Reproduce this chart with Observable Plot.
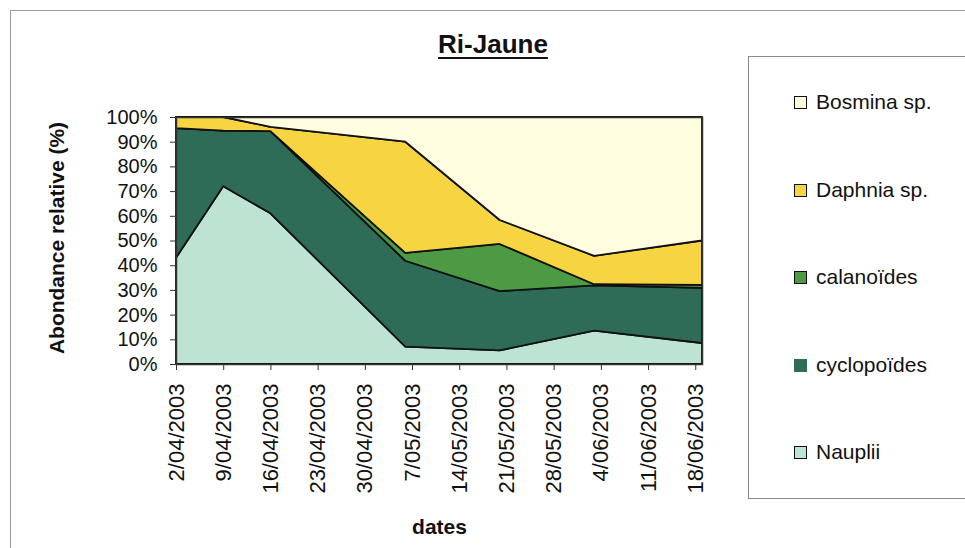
<!DOCTYPE html>
<html>
<head>
<meta charset="utf-8">
<script src="https://cdn.jsdelivr.net/npm/d3@7"></script>
<script src="https://cdn.jsdelivr.net/npm/@observablehq/plot@0.6"></script>
<style>
  html, body { margin: 0; padding: 0; background: #fff; overflow: hidden; }
  body { width: 965px; height: 548px; position: relative; font-family: "Liberation Sans", Arial, sans-serif; color: #111; }
  #outer { position: absolute; left: 10px; top: 10px; width: 1000px; height: 600px; border: 1px solid #9a9a9a; box-sizing: border-box; }
  #chart { position: absolute; left: 0; top: 0; }
  #title { position: absolute; left: 393px; width: 200px; top: 29px; text-align: center; font-weight: bold; font-size: 26px; text-decoration: underline; text-decoration-thickness: 2px; text-underline-offset: 4px; }
  #legend { position: absolute; left: 748px; top: 56px; width: 260px; height: 443px; border: 1px solid #8a8a8a; box-sizing: border-box; background: #fff; }
  .item { position: absolute; left: 45px; height: 24px; display: flex; align-items: center; font-size: 21px; white-space: nowrap; }
  .sw { width: 11px; height: 11px; border: 1.5px solid #111; margin-right: 9px; flex: none; }
</style>
</head>
<body>
<div id="outer"></div>
<div id="chart"></div>
<div id="title">Ri-Jaune</div>
<div id="legend"></div>
<script>
// ---- data ----
const dates = ["2003-04-02", "2003-04-09", "2003-04-16", "2003-05-06", "2003-05-20", "2003-06-03", "2003-06-19"];
const series = ["Nauplii", "cyclopoïdes", "calanoïdes", "Daphnia sp.", "Bosmina sp."];
const nauplii     = [43, 72, 61, 7, 5.5, 13.5, 8.5];
const cyclopoides = [52.5, 22.5, 33.3, 34.8, 24, 18.3, 22.3];
const calanoides  = [0, 0, 0, 3.2, 19.1, 0.5, 1.2];
const daphnia     = [4.5, 5.5, 1.7, 45, 9.7, 11.5, 18];
const bosmina     = [0, 0, 4, 10, 41.7, 56.2, 50];
const colors = ["#bde3d2", "#2f6c58", "#4d9a45", "#f7d542", "#fffde0"];
const tickDates = ["2003-04-02", "2003-04-09", "2003-04-16", "2003-04-23", "2003-04-30", "2003-05-07",
                   "2003-05-14", "2003-05-21", "2003-05-28", "2003-06-04", "2003-06-11", "2003-06-18"];
const yTicks = [0, 10, 20, 30, 40, 50, 60, 70, 80, 90, 100];
const xTitle = "dates";
const yTitle = "Abondance relative (%)";

// ---- build tidy table ----
const valuesBySeries = [nauplii, cyclopoides, calanoides, daphnia, bosmina];
const parse = d3.utcParse("%Y-%m-%d");
const table = [];
series.forEach((s, i) => {
  dates.forEach((d, j) => table.push({series: s, date: parse(d), value: valuesBySeries[i][j]}));
});

const fmt = d3.utcFormat("%-d/%m/%Y");

const plot = Plot.plot({
  width: 740,
  height: 548,
  marginLeft: 176,
  marginRight: 38,
  marginTop: 117,
  marginBottom: 184,
  style: {fontFamily: "Liberation Sans, Arial, sans-serif", color: "#111", background: "transparent", overflow: "visible"},
  x: {type: "utc", domain: [parse(dates[0]), parse(dates[dates.length - 1])]},
  y: {domain: [0, 100]},
  color: {domain: series, range: colors},
  marks: [
    Plot.areaY(table, {x: "date", y: "value", z: "series", fill: "series", order: series,
      stroke: "#111", strokeWidth: 1.8, strokeLinejoin: "round"}),
    Plot.frame({stroke: "#333", strokeWidth: 1.5}),
    Plot.axisY({ticks: yTicks, tickFormat: d => d + "%", tickSize: 6, tickPadding: 13,
      fontSize: 20, label: null, stroke: "#333"}),
    Plot.axisX({ticks: tickDates.map(parse), tickFormat: fmt, tickRotate: -90, tickSize: 6,
      tickPadding: 13, fontSize: 22, label: null, stroke: "#333"}),
    Plot.text([xTitle], {frameAnchor: "bottom", dy: 163, lineAnchor: "middle", textAnchor: "middle",
      fontWeight: "bold", fontSize: 21, fill: "#111"}),
    Plot.text([yTitle], {frameAnchor: "left", rotate: -90, dx: -119, dy: -3, lineAnchor: "middle",
      textAnchor: "middle", fontWeight: "bold", fontSize: 21, fill: "#111", letterSpacing: "0.4px"})
  ]
});
document.getElementById("chart").appendChild(plot);

// ---- legend (top to bottom: reversed stacking order) ----
const legend = document.getElementById("legend");
const centers = [101, 189, 276, 364, 451];
series.slice().reverse().forEach((s, k) => {
  const i = series.indexOf(s);
  const item = document.createElement("div");
  item.className = "item";
  item.style.top = (centers[k] - 56 - 12) + "px";
  const sw = document.createElement("span");
  sw.className = "sw";
  sw.style.background = colors[i];
  if (s === "cyclopoïdes") sw.style.borderColor = colors[i];
  item.appendChild(sw);
  item.appendChild(document.createTextNode(s));
  legend.appendChild(item);
});
</script>
</body>
</html>
